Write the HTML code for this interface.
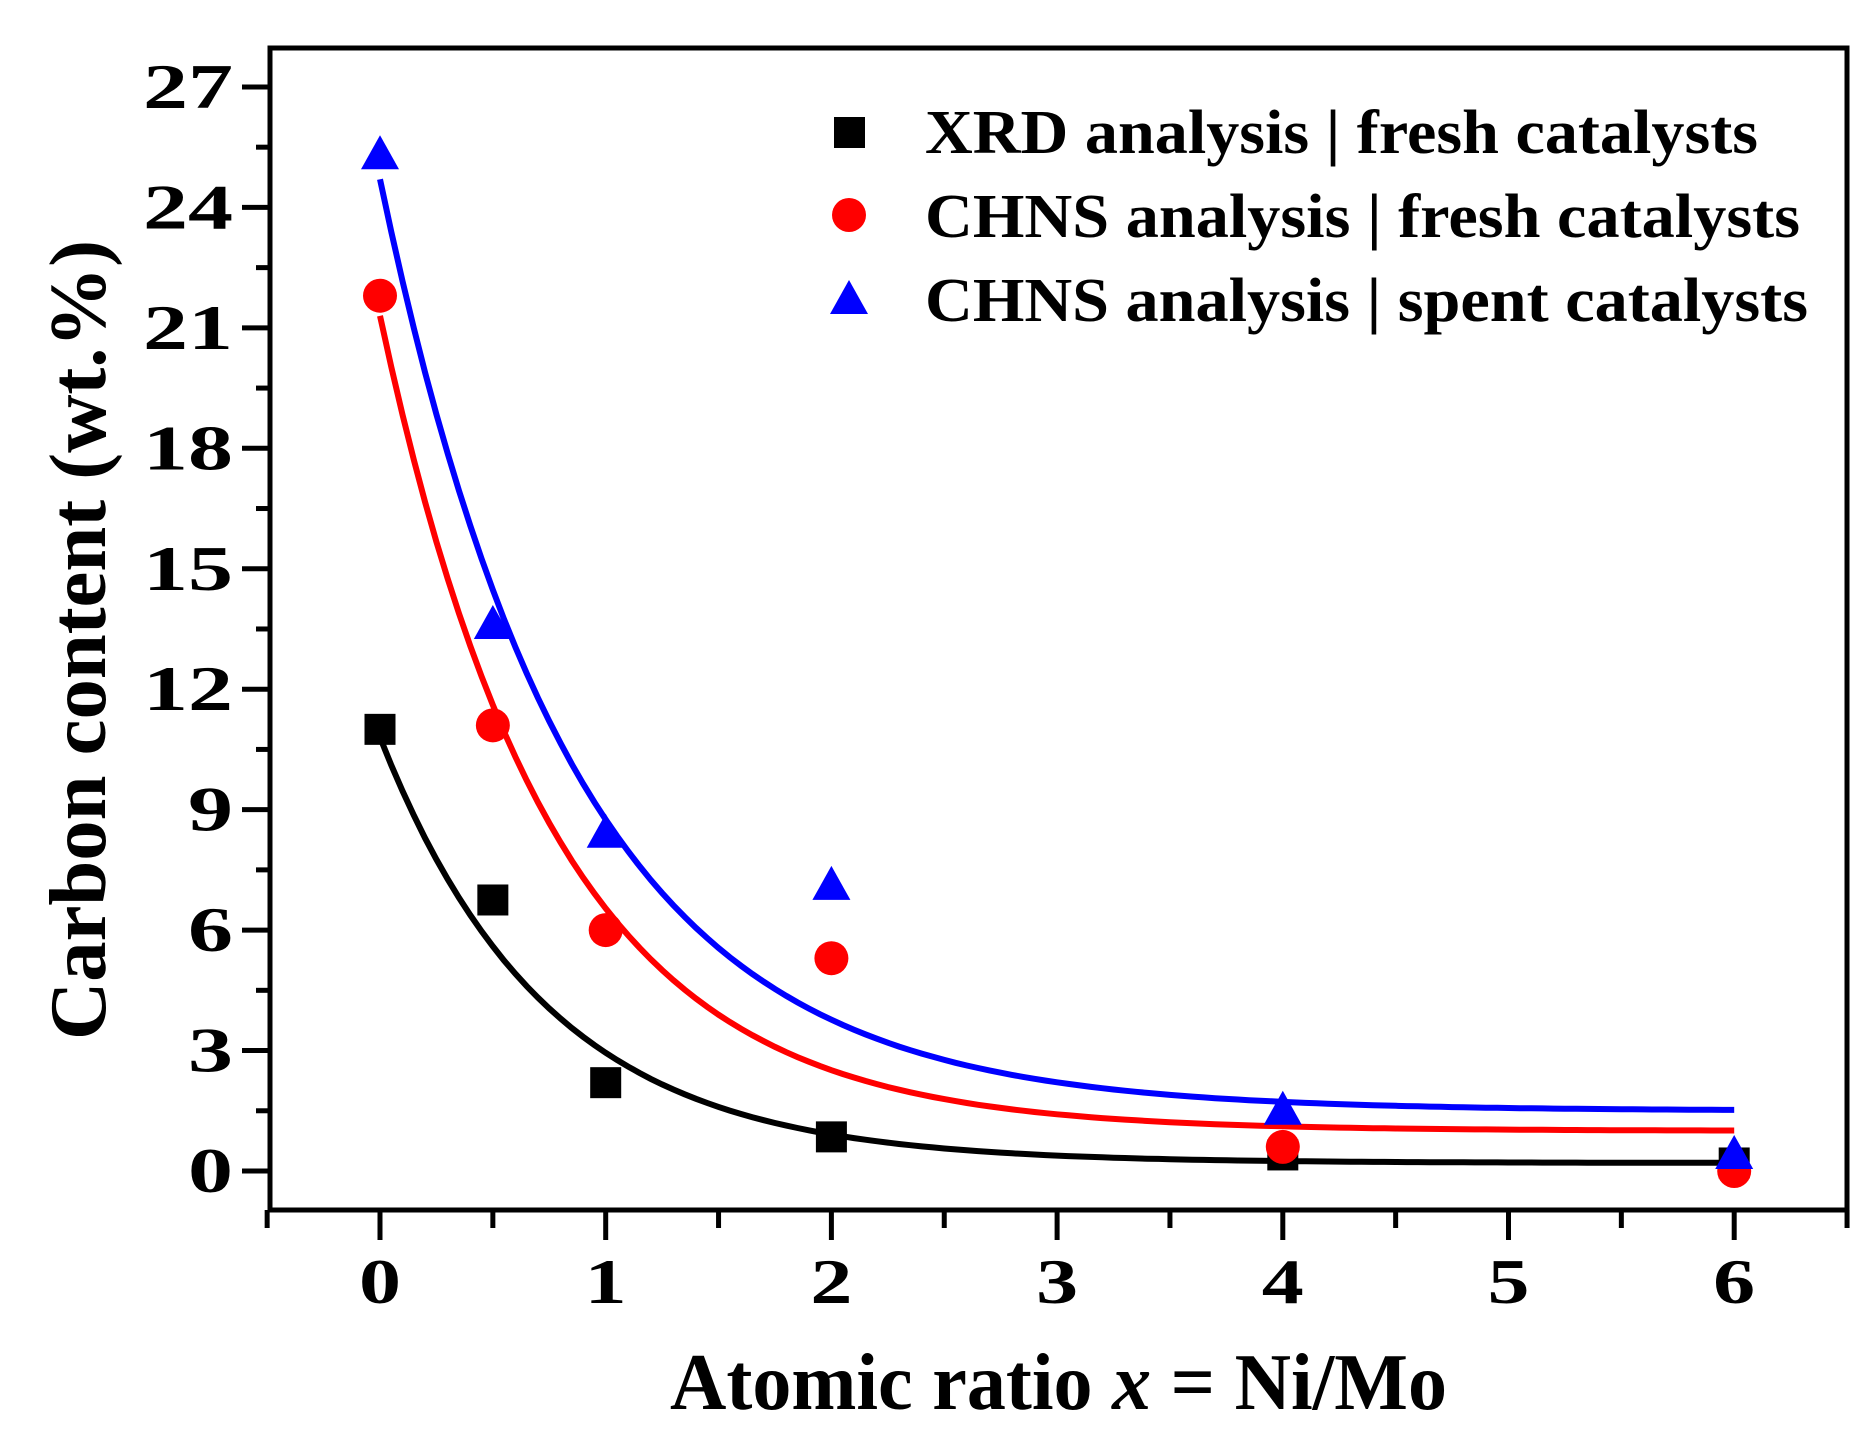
<!DOCTYPE html>
<html><head><meta charset="utf-8"><style>
html,body{margin:0;padding:0;background:#fff;}
svg{display:block;}
text{font-family:"Liberation Serif",serif;font-weight:bold;fill:#000;}
</style></head><body>
<svg id="s" width="1875" height="1440" viewBox="0 0 1875 1440" xmlns="http://www.w3.org/2000/svg">
<rect x="0" y="0" width="1875" height="1440" fill="#fff"/>
<rect x="270" y="48" width="1577" height="1162" fill="none" stroke="#000" stroke-width="5"/>
<g id="ticks" stroke="#000" stroke-width="5"></g>
<g id="curves" fill="none" stroke-width="6"></g>
<g id="pts"></g>
<g id="lab" font-size="64"></g>
<text x="670" y="1409" font-size="80" textLength="777" lengthAdjust="spacingAndGlyphs">Atomic ratio <tspan font-style="italic">x</tspan> = Ni/Mo</text>
<text transform="translate(105,1040) rotate(-90)" font-size="80" textLength="800" lengthAdjust="spacingAndGlyphs">Carbon content (wt.%)</text>
<rect x="834" y="117" width="31" height="31" fill="#000"/>
<circle cx="849" cy="215" r="17" fill="#f00"/>
<polygon points="849,280 868,314 830,314" fill="#00f"/>
<text x="925" y="153" font-size="62" textLength="833" lengthAdjust="spacingAndGlyphs">XRD analysis | fresh catalysts</text>
<text x="925" y="237" font-size="62" textLength="875" lengthAdjust="spacingAndGlyphs">CHNS analysis | fresh catalysts</text>
<text x="925" y="321" font-size="62" textLength="883" lengthAdjust="spacingAndGlyphs">CHNS analysis | spent catalysts</text>
</svg>
<script>
const NS="http://www.w3.org/2000/svg";
const X=x=>380+225.7*x, Y=v=>1171-40.15*v;
function el(p,t,a,txt){const e=document.createElementNS(NS,t);for(const k in a)e.setAttribute(k,a[k]);if(txt!==undefined)e.textContent=txt;document.getElementById(p).appendChild(e);return e;}
for(let i=-1;i<=13;i++){const x=i*0.5,major=(i%2===0);const px=X(x);
 el("ticks","line",{x1:px,y1:1210,x2:px,y2:major?1240:1228});
 if(major&&x>=0&&x<=6) el("lab","text",{x:px,y:1303,"text-anchor":"middle",textLength:42,lengthAdjust:"spacingAndGlyphs"},String(x));}
for(let i=0;i<=18;i++){const v=i*1.5,major=(i%2===0);const py=Y(v);
 el("ticks","line",{x1:270,y1:py,x2:major?242:256,y2:py});
 if(major){const s=String(v);el("lab","text",{x:233,y:py+21,"text-anchor":"end",textLength:s.length*45,lengthAdjust:"spacingAndGlyphs"},s);}}
function curve(y0,A,t,c){let d="";for(let i=0;i<=120;i++){const x=6*i/120;d+=(i?"L":"M")+X(x).toFixed(1)+","+Y(y0+A*Math.exp(-x/t)).toFixed(1);}el("curves","path",{d:d,stroke:c});}
curve(0.2,10.6,0.74,"#000");curve(1.0,20.3,0.77,"#f00");curve(1.5,23.2,0.86,"#00f");
const xs=[0,0.5,1,2,4,6];
const bk=[11,6.75,2.2,0.85,0.4,0.2],rd=[21.8,11.1,6,5.3,0.6,0],bl=[25.3,13.6,8.4,7.1,1.5,0.4];
xs.forEach((x,i)=>{el("pts","rect",{x:X(x)-15.5,y:Y(bk[i])-15.5,width:31,height:31,fill:"#000"});});
xs.forEach((x,i)=>{el("pts","circle",{cx:X(x),cy:Y(rd[i]),r:17,fill:"#f00"});});
xs.forEach((x,i)=>{const px=X(x),py=Y(bl[i]);el("pts","polygon",{points:`${px},${py-20} ${px+19},${py+14} ${px-19},${py+14}`,fill:"#00f"});});
</script>
</body></html>
